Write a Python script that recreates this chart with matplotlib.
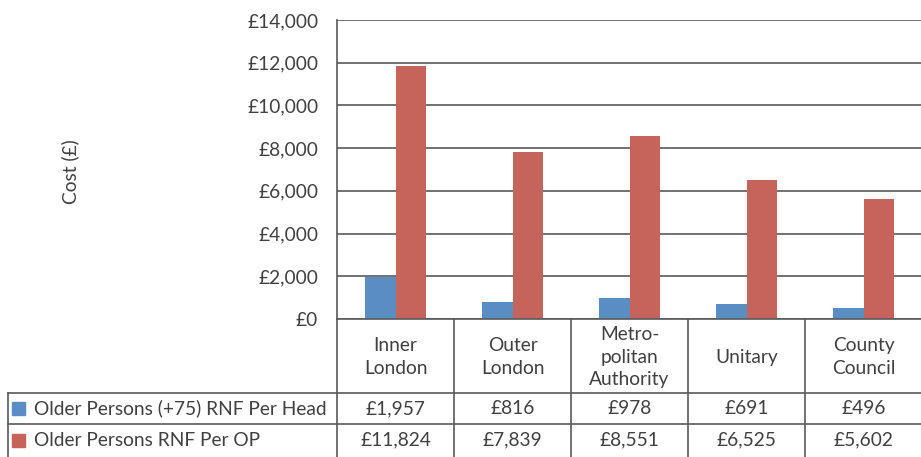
import numpy as np
import matplotlib
matplotlib.use("Agg")
import matplotlib.pyplot as plt
from matplotlib.lines import Line2D
from matplotlib.patches import Rectangle
from matplotlib.ticker import FuncFormatter

# datos
categorias = ["Inner\nLondon", "Outer\nLondon", "Metro-\npolitan\nAuthority", "Unitary", "County\nCouncil"]
series = ["Older Persons (+75) RNF Per Head", "Older Persons RNF Per OP"]
per_head = [1957, 816, 978, 691, 496]
per_op = [11824, 7839, 8551, 6525, 5602]
colores = ["#5B8DC5", "#C4645B"]

plt.rcParams["font.family"] = ["Lato", "DejaVu Sans"]
gris_txt = "#404040"
gris_lin = "#595959"
fs = 13.8

W, H = 921, 457
fig = plt.figure(figsize=(W / 100, H / 100), dpi=100)

# area del grafico en pixeles
x0, x1 = 337, 922
y_top, y_bot = 20, 319
ax = fig.add_axes([x0 / W, 1 - y_bot / H, (x1 - x0) / W, (y_bot - y_top) / H])

x = np.arange(len(categorias))
ancho = 0.26
ax.bar(x - ancho / 2, per_head, ancho, color=colores[0], zorder=3)
ax.bar(x + ancho / 2, per_op, ancho, color=colores[1], zorder=3)
ax.set_xlim(-0.5, len(categorias) - 0.5)
ax.set_ylim(0, 14000)
ax.set_yticks(np.arange(0, 14001, 2000))
ax.yaxis.set_major_formatter(FuncFormatter(lambda v, p: f"£{int(v):,}"))
ax.tick_params(axis="y", length=0, pad=13.5, labelsize=fs, labelcolor=gris_txt)
ax.set_xticks([])
ax.grid(axis="y", color=gris_lin, linewidth=1.2, zorder=0)
for s in ["top", "right", "bottom"]:
    ax.spines[s].set_visible(False)
ax.spines["left"].set_color(gris_lin)
ax.spines["left"].set_linewidth(1.2)
fig.text(70 / W, 1 - 172 / H, "Cost (£)", rotation=90, ha="center", va="center",
         fontsize=fs, color=gris_txt)

# tabla de datos, dibujada en coordenadas de pixel
tb = fig.add_axes([0, 0, 1, 1])
tb.set_xlim(0, W)
tb.set_ylim(H, 0)
tb.axis("off")
tb.patch.set_alpha(0)

ancho_cat = (x1 - x0) / len(categorias)
bordes = [x0 + i * ancho_cat for i in range(len(categorias) + 1)]
fila1, fila2, fila3 = 393, 424, 460
kw = dict(color=gris_lin, linewidth=1.2)
tb.add_line(Line2D([x0, x0], [y_bot, fila3], **kw))
for b in bordes[1:]:
    tb.add_line(Line2D([b, b], [y_bot, fila3], **kw))
tb.add_line(Line2D([x0, W], [y_bot, y_bot], **kw))
tb.add_line(Line2D([8, W], [fila1, fila1], **kw))
tb.add_line(Line2D([8, W], [fila2, fila2], **kw))
tb.add_line(Line2D([8, 8], [fila1, fila3], **kw))

for i, cat in enumerate(categorias):
    cx = (bordes[i] + bordes[i + 1]) / 2
    tb.text(cx, (y_bot + fila1) / 2 + 1, cat, ha="center", va="center",
            fontsize=fs, color=gris_txt, linespacing=1.4)
    tb.text(cx, (fila1 + fila2) / 2, f"£{per_head[i]:,}", ha="center", va="center",
            fontsize=fs, color=gris_txt)
    tb.text(cx, (fila2 + fila3) / 2 - 2, f"£{per_op[i]:,}", ha="center", va="center",
            fontsize=fs, color=gris_txt)

for j, (nombre, yc) in enumerate(zip(series, [(fila1 + fila2) / 2, (fila2 + fila3) / 2 - 2])):
    tb.add_patch(Rectangle((12, yc - 6.5), 13, 13, color=colores[j]))
    tb.text(34, yc, nombre, ha="left", va="center", fontsize=fs, color=gris_txt)

fig.savefig("out.png", dpi=100)
